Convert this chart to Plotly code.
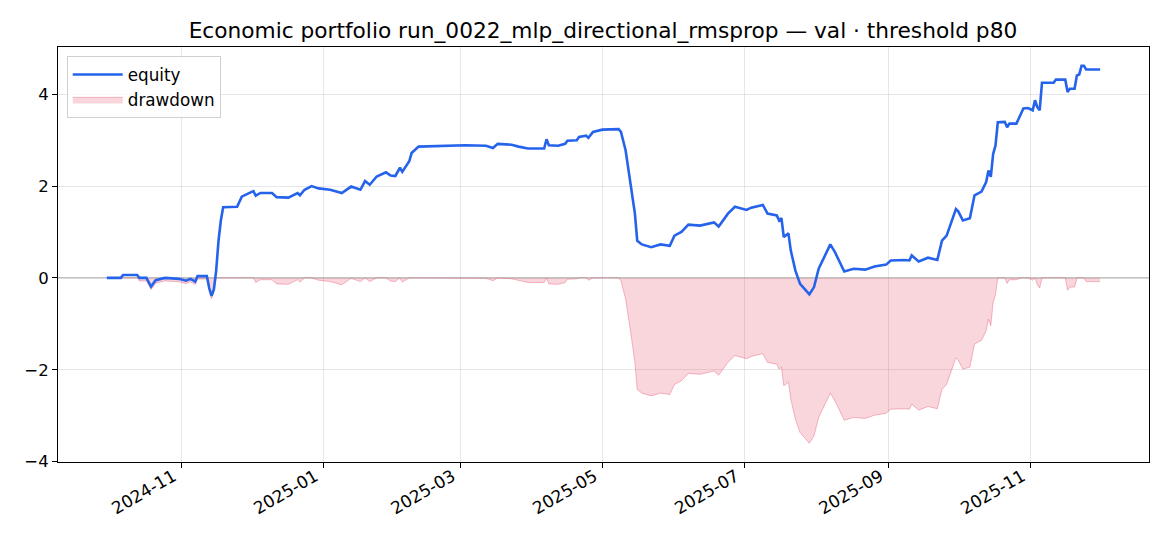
import numpy as np
import plotly.graph_objects as go

dates = [
    "2024-09-30", "2024-10-06", "2024-10-07", "2024-10-13", "2024-10-14", "2024-10-17",
    "2024-10-19", "2024-10-21", "2024-10-25", "2024-10-31", "2024-11-03", "2024-11-05",
    "2024-11-07", "2024-11-08", "2024-11-12", "2024-11-13", "2024-11-14", "2024-11-15",
    "2024-11-16", "2024-11-17", "2024-11-18", "2024-11-19", "2024-11-25", "2024-11-26",
    "2024-11-27", "2024-12-01", "2024-12-02", "2024-12-03", "2024-12-05", "2024-12-10",
    "2024-12-12", "2024-12-17", "2024-12-21", "2024-12-22", "2024-12-24", "2024-12-27",
    "2024-12-30", "2025-01-04", "2025-01-09", "2025-01-13", "2025-01-17", "2025-01-19",
    "2025-01-21", "2025-01-24", "2025-01-28", "2025-01-30", "2025-02-01", "2025-02-03",
    "2025-02-04", "2025-02-07", "2025-02-08", "2025-02-11", "2025-03-03", "2025-03-12",
    "2025-03-15", "2025-03-17", "2025-03-23", "2025-03-26", "2025-03-30", "2025-04-06",
    "2025-04-07", "2025-04-08", "2025-04-12", "2025-04-15", "2025-04-16", "2025-04-20",
    "2025-04-21", "2025-04-24", "2025-04-25", "2025-04-27", "2025-05-01", "2025-05-08",
    "2025-05-09", "2025-05-11", "2025-05-13", "2025-05-15", "2025-05-16", "2025-05-18",
    "2025-05-22", "2025-05-26", "2025-05-30", "2025-06-01", "2025-06-04", "2025-06-07",
    "2025-06-12", "2025-06-18", "2025-06-20", "2025-06-24", "2025-06-27", "2025-07-02",
    "2025-07-04", "2025-07-09", "2025-07-11", "2025-07-15", "2025-07-16", "2025-07-17",
    "2025-07-18", "2025-07-20", "2025-07-21", "2025-07-23", "2025-07-25", "2025-07-29",
    "2025-07-31", "2025-08-02", "2025-08-07", "2025-08-09", "2025-08-13", "2025-08-17",
    "2025-08-22", "2025-08-26", "2025-08-31", "2025-09-02", "2025-09-08", "2025-09-10",
    "2025-09-11", "2025-09-14", "2025-09-18", "2025-09-22", "2025-09-24", "2025-09-26",
    "2025-09-30", "2025-10-01", "2025-10-03", "2025-10-06", "2025-10-08", "2025-10-11",
    "2025-10-13", "2025-10-14", "2025-10-15", "2025-10-16", "2025-10-17", "2025-10-18",
    "2025-10-21", "2025-10-22", "2025-10-23", "2025-10-26", "2025-10-28", "2025-10-29",
    "2025-10-31", "2025-11-02", "2025-11-03", "2025-11-04", "2025-11-05", "2025-11-06",
    "2025-11-11", "2025-11-12", "2025-11-16", "2025-11-17", "2025-11-18", "2025-11-20",
    "2025-11-21", "2025-11-22", "2025-11-23", "2025-11-24", "2025-11-25", "2025-12-01",
]

equity = [
    0.00, 0.00, 0.065, 0.065, 0.00, 0.00,
    -0.19, -0.05, 0.00, -0.02, -0.06, -0.02,
    -0.08, 0.04, 0.04, -0.22, -0.39, -0.25,
    0.16, 0.81, 1.25, 1.54, 1.55, 1.65,
    1.77, 1.87, 1.89, 1.79, 1.85, 1.85,
    1.76, 1.75, 1.85, 1.80, 1.92, 2.00,
    1.95, 1.92, 1.85, 1.99, 1.92, 2.11,
    2.03, 2.21, 2.30, 2.23, 2.22, 2.40,
    2.31, 2.54, 2.72, 2.86, 2.89, 2.88,
    2.83, 2.92, 2.90, 2.86, 2.82, 2.82,
    3.02, 2.89, 2.88, 2.92, 2.99, 3.00,
    3.07, 3.10, 3.05, 3.18, 3.23, 3.24,
    3.18, 2.78, 2.12, 1.40, 0.81, 0.73,
    0.67, 0.73, 0.70, 0.92, 1.00, 1.16,
    1.14, 1.21, 1.12, 1.40, 1.55, 1.48,
    1.53, 1.59, 1.40, 1.36, 1.25, 1.30,
    0.89, 0.97, 0.60, 0.16, -0.13, -0.36,
    -0.20, 0.20, 0.73, 0.56, 0.14, 0.20,
    0.18, 0.25, 0.29, 0.38, 0.39, 0.38,
    0.49, 0.36, 0.44, 0.39, 0.81, 0.92,
    1.50, 1.45, 1.25, 1.30, 1.80, 1.88,
    2.09, 2.34, 2.20, 2.70, 2.88, 3.39,
    3.40, 3.28, 3.36, 3.36, 3.58, 3.69,
    3.70, 3.65, 3.87, 3.72, 3.65, 4.25,
    4.25, 4.32, 4.32, 4.05, 4.12, 4.12,
    4.41, 4.43, 4.62, 4.62, 4.54, 4.54,
]

title_text = "Economic portfolio run_0022_mlp_directional_rmsprop — val · threshold p80"
y_ticks = [-4, -2, 0, 2, 4]

eq = np.array(equity)
drawdown = eq - np.maximum.accumulate(eq)

FONT = "DejaVu Sans"
W, H = 1162, 538

fig = go.Figure()
fig.add_trace(go.Scatter(
    x=dates, y=drawdown, name="drawdown", mode="lines",
    fill="tozeroy", fillcolor="rgba(220,20,60,0.18)",
    line=dict(color="rgba(220,20,60,0.28)", width=1),
))
fig.add_trace(go.Scatter(
    x=dates, y=equity, name="equity", mode="lines",
    line=dict(color="#2563eb", width=2.6),
))

fig.add_hline(y=0, line=dict(color="rgba(128,128,128,0.7)", width=1), layer="below")

fig.update_layout(
    width=W, height=H,
    margin=dict(l=50, r=21, t=39, b=84, autoexpand=False),
    paper_bgcolor="white", plot_bgcolor="white",
    font=dict(family=FONT, size=17, color="black"),
    title=dict(text=title_text, x=0.512, xanchor="center", y=1 - 22 / H,
               yanchor="middle", yref="container", font=dict(size=21.7, family=FONT)),
    showlegend=True,
    legend=dict(x=0.008, y=0.978, xanchor="left", yanchor="top",
                bgcolor="rgba(255,255,255,0.8)", bordercolor="#d0d0d0", borderwidth=1,
                font=dict(size=16.8, family=FONT), traceorder="reversed",
                itemwidth=50, tracegroupgap=2),
)

fig.update_xaxes(
    type="date",
    range=["2024-09-09", "2025-12-22"],
    tick0="2024-11-01", dtick="M2", tickformat="%Y-%m",
    tickangle=-30, automargin=False,
    ticklabelshift=-8, ticklabelstandoff=-8,
    showgrid=True, gridcolor="rgba(176,176,176,0.3)", gridwidth=1,
    showline=True, linecolor="black", linewidth=1, mirror=True,
    ticks="outside", ticklen=5, tickwidth=1, tickcolor="black",
    zeroline=False, tickfont=dict(size=17, family=FONT),
)
fig.update_yaxes(
    range=[-4.01, 5.03],
    tickvals=y_ticks, automargin=False,
    showgrid=True, gridcolor="rgba(176,176,176,0.3)", gridwidth=1,
    showline=True, linecolor="black", linewidth=1, mirror=True,
    ticks="outside", ticklen=5, tickwidth=1, tickcolor="black",
    zeroline=False, tickfont=dict(size=16.5, family=FONT),
)

fig.write_html("out.html")
